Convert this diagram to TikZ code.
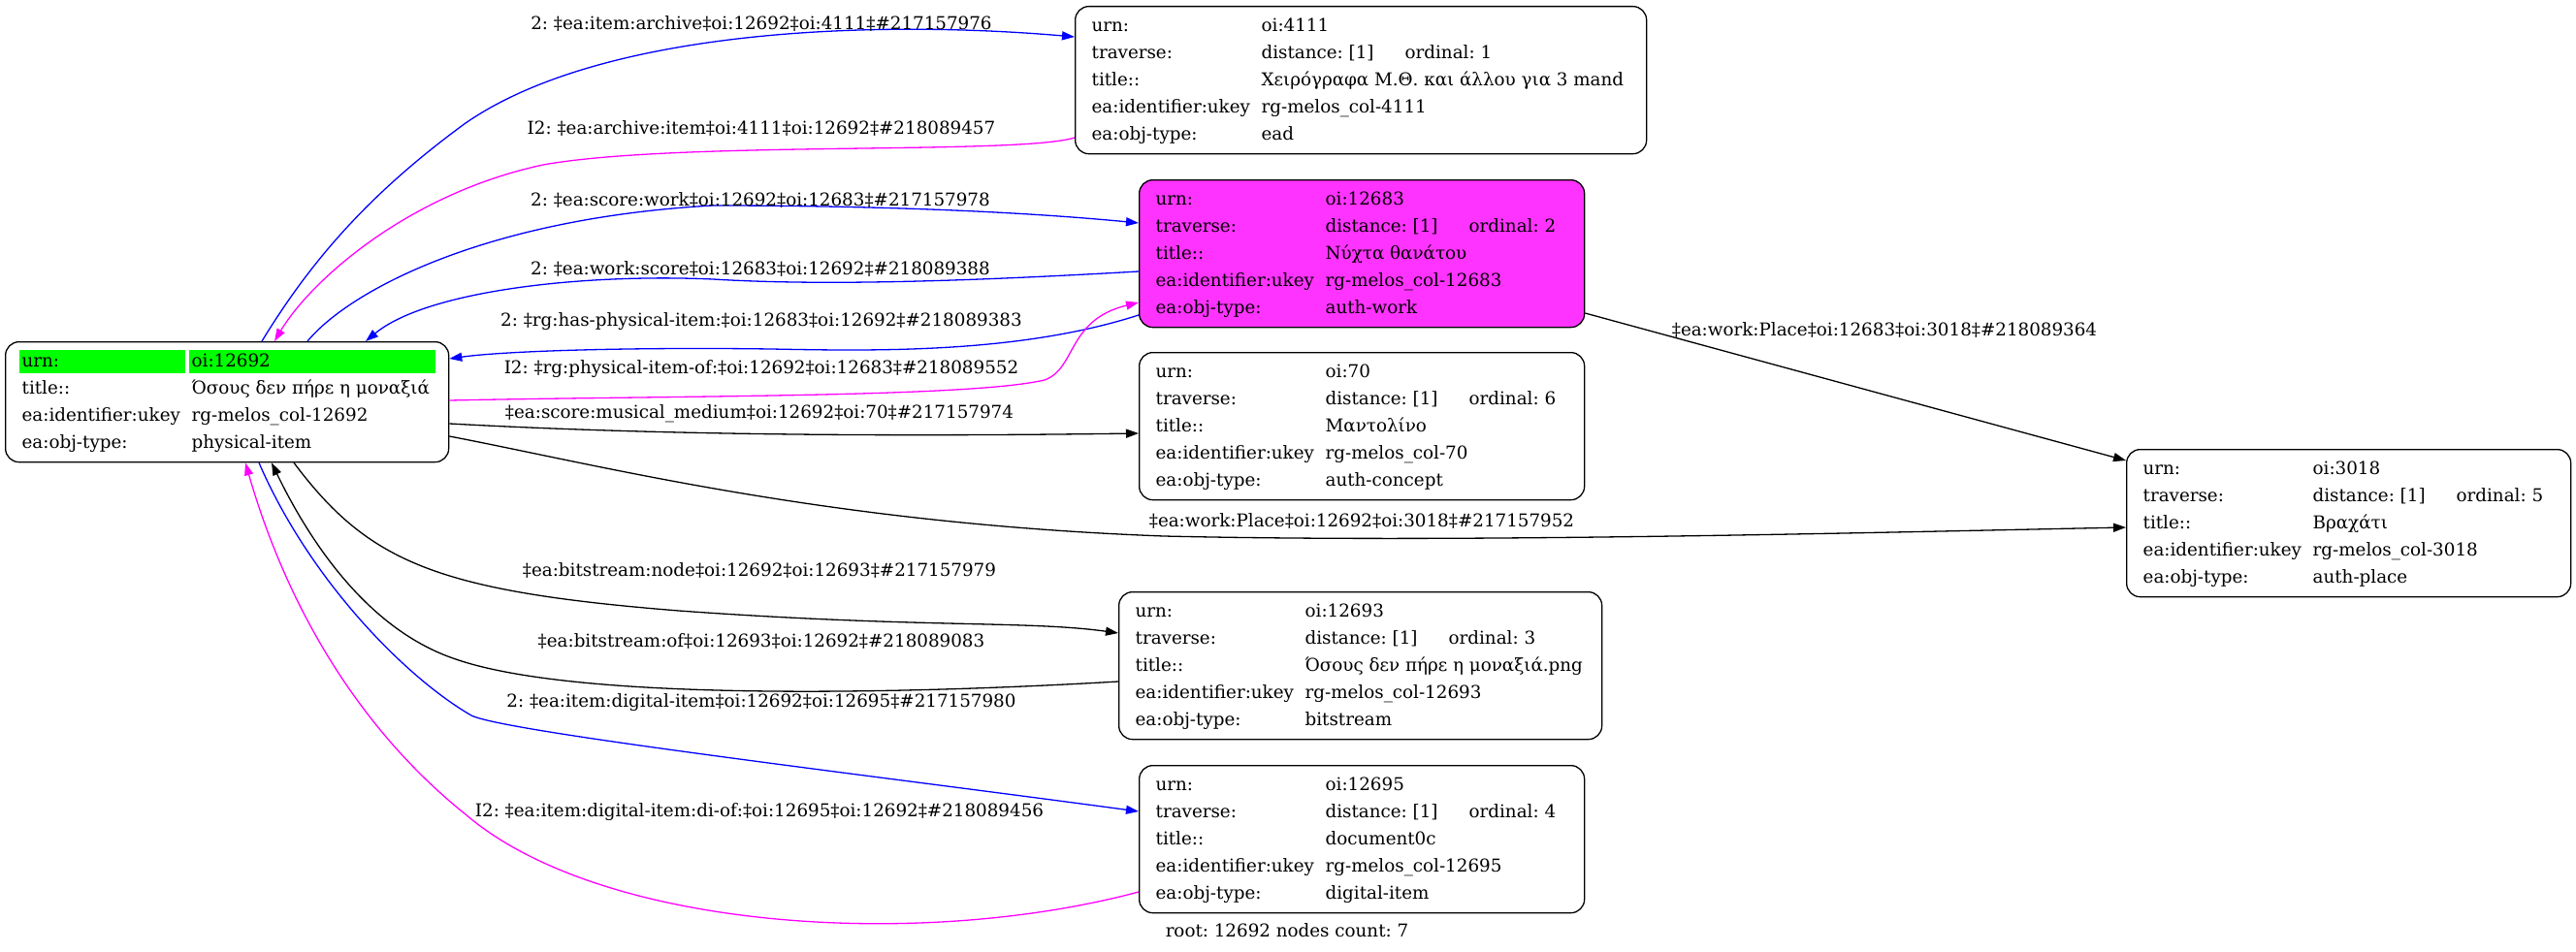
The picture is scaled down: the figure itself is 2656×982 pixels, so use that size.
\documentclass[tikz,border=0pt]{standalone}
\usepackage{fontspec}
\setmainfont{DejaVu Serif}
\usepackage{xcolor}
\usetikzlibrary{arrows.meta}

\definecolor{edgeblue}{HTML}{0000FF}
\definecolor{edgemagenta}{HTML}{FF00FF}
\definecolor{workfill}{HTML}{FF33FF}
\definecolor{rootgreen}{HTML}{00FF00}

\frenchspacing
\newcommand{\recfont}{\fontsize{18.3}{28}\selectfont}
\newcommand{\reclines}[2]{\makebox[#1][l]{\begin{tabular}{@{}p{175pt}@{}l@{}}#2\end{tabular}}}
\newcommand{\trav}[1]{\makebox[148pt][l]{distance: [1]}ordinal: #1}
\newcommand{\greencell}[2]{\hspace*{-3pt}{\setlength{\fboxsep}{0pt}\colorbox{rootgreen}{\makebox[#1][l]{\rule[-6.4pt]{0pt}{24pt}\hspace*{3pt}#2}}}}

\tikzset{
  rec/.style={draw, rounded corners=14pt, line width=1.3pt, inner xsep=17pt, inner ysep=6pt, anchor=north west, font=\recfont},
  edgelabel/.style={font=\recfont, inner sep=0pt},
  link/.style={line width=1.3pt, -{Triangle[length=13pt,width=9pt]}},
}

\begin{document}
\begin{tikzpicture}[x=1pt, y=-1pt]
    \useasboundingbox (0,0) rectangle (2656,982);

    % records
    \node[rec] (root) at (5,352) {\reclines{423pt}{
        \greencell{171pt}{urn:} & \greencell{254pt}{oi:12692}\\
        title:: & Όσους δεν πήρε η μοναξιά\\
        ea:identifier:ukey & rg-melos\_col-12692\\
        ea:obj-type: & physical-item}};
    \node[rec] (n4111) at (1108,6) {\reclines{555pt}{
        urn: & oi:4111\\
        traverse: & \trav{1}\\
        title:: & Χειρόγραφα Μ.Θ. και άλλου για 3 mand\\
        ea:identifier:ukey & rg-melos\_col-4111\\
        ea:obj-type: & ead}};
    \node[rec, fill=workfill] (n12683) at (1174,185) {\reclines{425pt}{
        urn: & oi:12683\\
        traverse: & \trav{2}\\
        title:: & Νύχτα θανάτου\\
        ea:identifier:ukey & rg-melos\_col-12683\\
        ea:obj-type: & auth-work}};
    \node[rec] (n70) at (1174,363) {\reclines{425pt}{
        urn: & oi:70\\
        traverse: & \trav{6}\\
        title:: & Μαντολίνο\\
        ea:identifier:ukey & rg-melos\_col-70\\
        ea:obj-type: & auth-concept}};
    \node[rec] (n3018) at (2192,463) {\reclines{424pt}{
        urn: & oi:3018\\
        traverse: & \trav{5}\\
        title:: & Βραχάτι\\
        ea:identifier:ukey & rg-melos\_col-3018\\
        ea:obj-type: & auth-place}};
    \node[rec] (n12693) at (1153,610) {\reclines{464pt}{
        urn: & oi:12693\\
        traverse: & \trav{3}\\
        title:: & Όσους δεν πήρε η μοναξιά.png\\
        ea:identifier:ukey & rg-melos\_col-12693\\
        ea:obj-type: & bitstream}};
    \node[rec] (n12695) at (1174,789) {\reclines{425pt}{
        urn: & oi:12695\\
        traverse: & \trav{4}\\
        title:: & document0c\\
        ea:identifier:ukey & rg-melos\_col-12695\\
        ea:obj-type: & digital-item}};

    % links to and from the archive
    \draw[link, edgeblue] ([xshift=265pt]root.north west) .. controls (320,270) and (380,200) .. (480,127)
        .. controls (620,30) and (900,20) .. ([yshift=-32pt]n4111.north west);
    \draw[link, edgemagenta] ([yshift=-136pt]n4111.north west) .. controls (1050,160) and (700,145) .. (560,170)
        .. controls (420,200) and (320,290) .. ([xshift=278pt]root.north west);

    % links to and from the work
    \draw[link, edgeblue] ([xshift=312pt]root.north west) .. controls (360,300) and (500,225) .. (735,212)
        .. controls (900,212) and (1050,218) .. ([yshift=-45pt]n12683.north west);
    \draw[link, edgeblue] ([yshift=-95pt]n12683.north west) .. controls (1000,290) and (850,295) .. (735,288)
        .. controls (600,282) and (440,300) .. ([xshift=372pt]root.north west);
    \draw[link, edgeblue] ([yshift=-140pt]n12683.north west) .. controls (1050,365) and (900,362) .. (795,360)
        .. controls (650,358) and (520,362) .. ([yshift=-18pt]root.north east);
    \draw[link, edgemagenta] ([yshift=-61pt]root.north east) .. controls (700,408) and (1000,410) .. (1077,392)
        .. controls (1110,380) and (1100,330) .. ([yshift=-127pt]n12683.north west);

    % concept and place
    \draw[link] ([yshift=-85pt]root.north east) .. controls (700,450) and (950,450) .. ([yshift=-84pt]n70.north west);
    \draw[link] ([yshift=-98pt]root.north east) .. controls (620,480) and (850,540) .. (1200,553)
        .. controls (1500,560) and (1900,550) .. ([yshift=-81pt]n3018.north west);
    \draw[link] ([yshift=-138pt]n12683.north east) -- ([yshift=-12pt]n3018.north west);

    % bitstream
    \draw[link] ([xshift=298pt]root.south west) .. controls (380,580) and (450,610) .. (700,630)
        .. controls (950,648) and (1060,640) .. ([yshift=-43pt]n12693.north west);
    \draw[link] ([yshift=-93pt]n12693.north west) .. controls (950,715) and (600,725) .. (470,680)
        .. controls (380,650) and (320,560) .. ([xshift=275pt]root.south west);

    % digital item
    \draw[link, edgeblue] ([xshift=262pt]root.south west) .. controls (320,600) and (420,700) .. (486,738)
        .. controls (520,755) and (900,800) .. ([yshift=-48pt]n12695.north west);
    \draw[link, edgemagenta] ([yshift=-131pt]n12695.north west) .. controls (950,980) and (620,960) .. (480,840)
        .. controls (380,760) and (300,640) .. ([xshift=248pt]root.south west);

    % edge labels
    \node[edgelabel] (l1) at (785,24) {2: ‡ea:item:archive‡oi:12692‡oi:4111‡\#217157976};
    \node[edgelabel] (l2) at (785,132) {I2: ‡ea:archive:item‡oi:4111‡oi:12692‡\#218089457};
    \node[edgelabel] (l3) at (784,206) {2: ‡ea:score:work‡oi:12692‡oi:12683‡\#217157978};
    \node[edgelabel] (l4) at (784,277) {2: ‡ea:work:score‡oi:12683‡oi:12692‡\#218089388};
    \node[edgelabel] (l5) at (785,332) {2: ‡rg:has-physical-item:‡oi:12683‡oi:12692‡\#218089383};
    \node[edgelabel] (l6) at (785,381) {I2: ‡rg:physical-item-of:‡oi:12692‡oi:12683‡\#218089552};
    \node[edgelabel] (l7) at (783,427) {‡ea:score:musical\_medium‡oi:12692‡oi:70‡\#217157974};
    \node[edgelabel] (l8) at (1404,537) {‡ea:work:Place‡oi:12692‡oi:3018‡\#217157952};
    \node[edgelabel] (l9) at (1943,340) {‡ea:work:Place‡oi:12683‡oi:3018‡\#218089364};
    \node[edgelabel] (l10) at (783,588) {‡ea:bitstream:node‡oi:12692‡oi:12693‡\#217157979};
    \node[edgelabel] (l11) at (785,661) {‡ea:bitstream:of‡oi:12693‡oi:12692‡\#218089083};
    \node[edgelabel] (l12) at (785,725) {2: ‡ea:item:digital-item‡oi:12692‡oi:12695‡\#217157980};
    \node[edgelabel] (l13) at (783,838) {I2: ‡ea:item:digital-item:di-of:‡oi:12695‡oi:12692‡\#218089456};

    \node[edgelabel] (footer) at (1327,960) {root: 12692 nodes count: 7};
\end{tikzpicture}
\end{document}
